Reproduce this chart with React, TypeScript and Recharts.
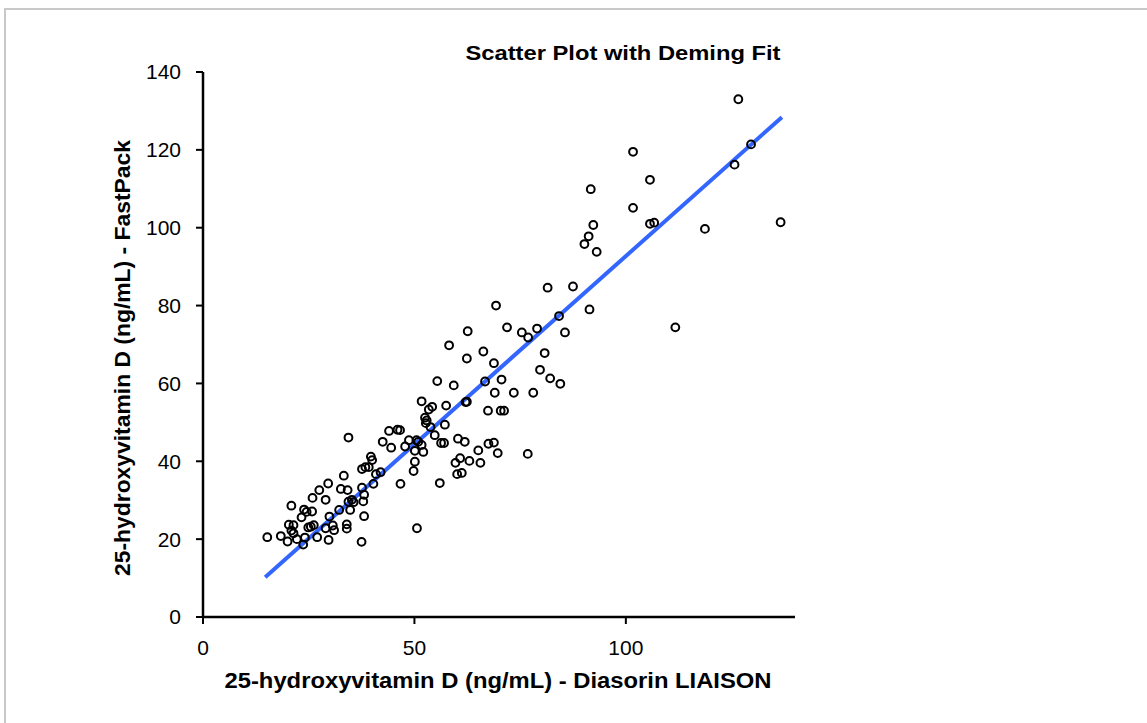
import React from 'react';
import { ScatterChart, Scatter, XAxis, YAxis } from 'recharts';

// Diasorin LIAISON (x) values
const liaison: number[] = [
  126.6, 129.6, 125.7, 101.7, 105.7, 91.7, 101.7, 105.7, 106.7, 92.3,
  91.2, 90.2, 93.1, 118.7, 136.6, 81.5, 87.5, 84.2, 91.4, 85.6,
  111.7, 69.3, 62.6, 71.9, 75.4, 79.0, 76.9, 58.2, 66.3, 62.4,
  68.8, 80.8, 79.7, 82.1, 84.5, 55.4, 59.3, 66.7, 70.6, 69.0,
  73.5, 78.1, 51.7, 54.2, 53.4, 57.5, 62.1, 62.4, 67.4, 70.4,
  71.2, 52.5, 52.9, 52.7, 53.8, 57.2, 54.8, 46.6, 48.7, 50.5,
  51.7, 47.8, 50.1, 52.1, 50.1, 49.8, 56.3, 57.0, 60.3, 61.9,
  65.1, 67.5, 68.8, 69.7, 76.8, 59.7, 60.8, 63.0, 65.6, 60.1,
  61.2, 56.0, 15.2, 18.4, 20.0, 20.9, 20.3, 20.9, 21.4, 22.2,
  23.7, 24.1, 23.3, 23.9, 24.5, 25.8, 24.9, 25.5, 26.2, 25.9,
  27.5, 29.0, 29.6, 27.0, 29.7, 29.0, 29.9, 30.7, 31.0, 32.2,
  33.3, 32.6, 34.2, 34.0, 34.0, 34.4, 34.4, 35.2, 35.6, 34.8,
  37.5, 38.1, 37.9, 38.1, 37.6, 37.6, 38.4, 39.2, 40.3, 40.9,
  42.0, 39.7, 40.0, 42.5, 44.5, 44.0, 46.0, 46.7, 50.6, 50.9,
  21.4,
];

// FastPack (y) values
const fastPack: number[] = [
  133.0, 121.4, 116.2, 119.5, 112.3, 109.9, 105.1, 101.0, 101.3, 100.7,
  97.8, 95.8, 93.8, 99.7, 101.4, 84.6, 84.9, 77.3, 79.0, 73.1,
  74.4, 80.0, 73.4, 74.4, 73.1, 74.1, 71.8, 69.8, 68.2, 66.4,
  65.2, 67.8, 63.5, 61.3, 59.9, 60.6, 59.5, 60.5, 61.0, 57.6,
  57.6, 57.6, 55.4, 54.0, 53.3, 54.3, 55.2, 55.3, 53.0, 53.0,
  53.0, 51.2, 50.5, 49.8, 48.8, 49.4, 46.7, 48.0, 45.4, 45.4,
  44.2, 43.8, 42.7, 42.4, 39.9, 37.5, 44.7, 44.7, 45.8, 45.0,
  42.8, 44.5, 44.8, 42.1, 41.9, 39.6, 40.8, 40.1, 39.6, 36.7,
  37.0, 34.4, 20.5, 20.8, 19.4, 28.6, 23.7, 22.2, 21.5, 20.0,
  18.6, 20.4, 25.6, 27.6, 27.0, 27.1, 23.0, 23.2, 23.6, 30.6,
  32.6, 30.1, 34.3, 20.5, 19.8, 22.8, 25.8, 23.5, 22.3, 27.5,
  36.3, 32.9, 32.6, 23.8, 22.7, 46.1, 29.6, 30.1, 29.5, 27.5,
  19.3, 25.9, 29.7, 31.4, 33.2, 38.0, 38.5, 38.5, 34.2, 36.7,
  37.2, 41.2, 40.3, 45.0, 43.5, 47.8, 48.1, 34.2, 22.8, 45.0,
  23.6,
];

// Deming fit endpoints
const fitX: number[] = [14.7, 136.9];
const fitY: number[] = [10.2, 128.4];

const xTicks: number[] = [0, 50, 100];
const yTicks: number[] = [0, 20, 40, 60, 80, 100, 120, 140];

const title = 'Scatter Plot with Deming Fit';
const xTitle = '25-hydroxyvitamin D (ng/mL) - Diasorin LIAISON';
const yTitle = '25-hydroxyvitamin D (ng/mL) - FastPack';

const points = liaison.map((x, i) => ({ x, y: fastPack[i] }));
const fit = fitX.map((x, i) => ({ x, y: fitY[i] }));

const FONT = '"Liberation Sans", Arial, sans-serif';

const OpenCircle = (props: any) => {
  const { cx, cy } = props;
  if (cx == null || cy == null) return <g />;
  return <circle cx={cx} cy={cy} r={3.9} fill="none" stroke="#000" strokeWidth={2} />;
};

const NoShape = () => <g />;

export default function App() {
  return (
    <div
      style={{
        position: 'fixed',
        left: 0,
        top: 0,
        width: 1147,
        height: 723,
        overflow: 'hidden',
        background: '#fff',
      }}
    >
      <div
        style={{
          position: 'absolute',
          left: 4,
          top: 8,
          width: 1300,
          height: 900,
          border: '2px solid #c8c8c8',
          boxSizing: 'border-box',
        }}
      />
      <div style={{ position: 'absolute', left: 0, top: 0 }}>
        <ScatterChart
          width={1147}
          height={723}
          margin={{ top: 72, right: 352, bottom: 66, left: 143 }}
        >
          <XAxis
            type="number"
            dataKey="x"
            domain={[0, 140]}
            ticks={xTicks}
            allowDataOverflow
            height={40}
            axisLine={{ stroke: '#000', strokeWidth: 2.5 }}
            tickLine={{ stroke: '#000', strokeWidth: 2 }}
            tickSize={7}
            tickMargin={16}
            tick={{ fill: '#000', fontSize: 21, fontFamily: FONT }}
          />
          <YAxis
            type="number"
            dataKey="y"
            domain={[0, 140]}
            ticks={yTicks}
            allowDataOverflow
            width={60}
            axisLine={{ stroke: '#000', strokeWidth: 2.5 }}
            tickLine={{ stroke: '#000', strokeWidth: 2 }}
            tickSize={7}
            tickMargin={15}
            tick={{ fill: '#000', fontSize: 21, fontFamily: FONT }}
          />
          <Scatter
            data={fit}
            line={{ stroke: '#3366FF', strokeWidth: 4 }}
            shape={NoShape}
            isAnimationActive={false}
          />
          <Scatter data={points} shape={OpenCircle} isAnimationActive={false} />
        </ScatterChart>
      </div>
      <svg
        width={1147}
        height={723}
        style={{ position: 'absolute', left: 0, top: 0, pointerEvents: 'none' }}
      >
        <text
          x={623}
          y={60}
          textAnchor="middle"
          fontFamily={FONT}
          fontWeight="bold"
          fontSize={21}
          textLength={315}
          lengthAdjust="spacingAndGlyphs"
          fill="#000"
        >
          {title}
        </text>
        <text
          x={498}
          y={688}
          textAnchor="middle"
          fontFamily={FONT}
          fontWeight="bold"
          fontSize={22}
          textLength={547}
          lengthAdjust="spacingAndGlyphs"
          fill="#000"
        >
          {xTitle}
        </text>
        <text
          x={0}
          y={0}
          transform="translate(130,358) rotate(-90)"
          textAnchor="middle"
          fontFamily={FONT}
          fontWeight="bold"
          fontSize={22}
          textLength={436}
          lengthAdjust="spacingAndGlyphs"
          fill="#000"
        >
          {yTitle}
        </text>
      </svg>
    </div>
  );
}
